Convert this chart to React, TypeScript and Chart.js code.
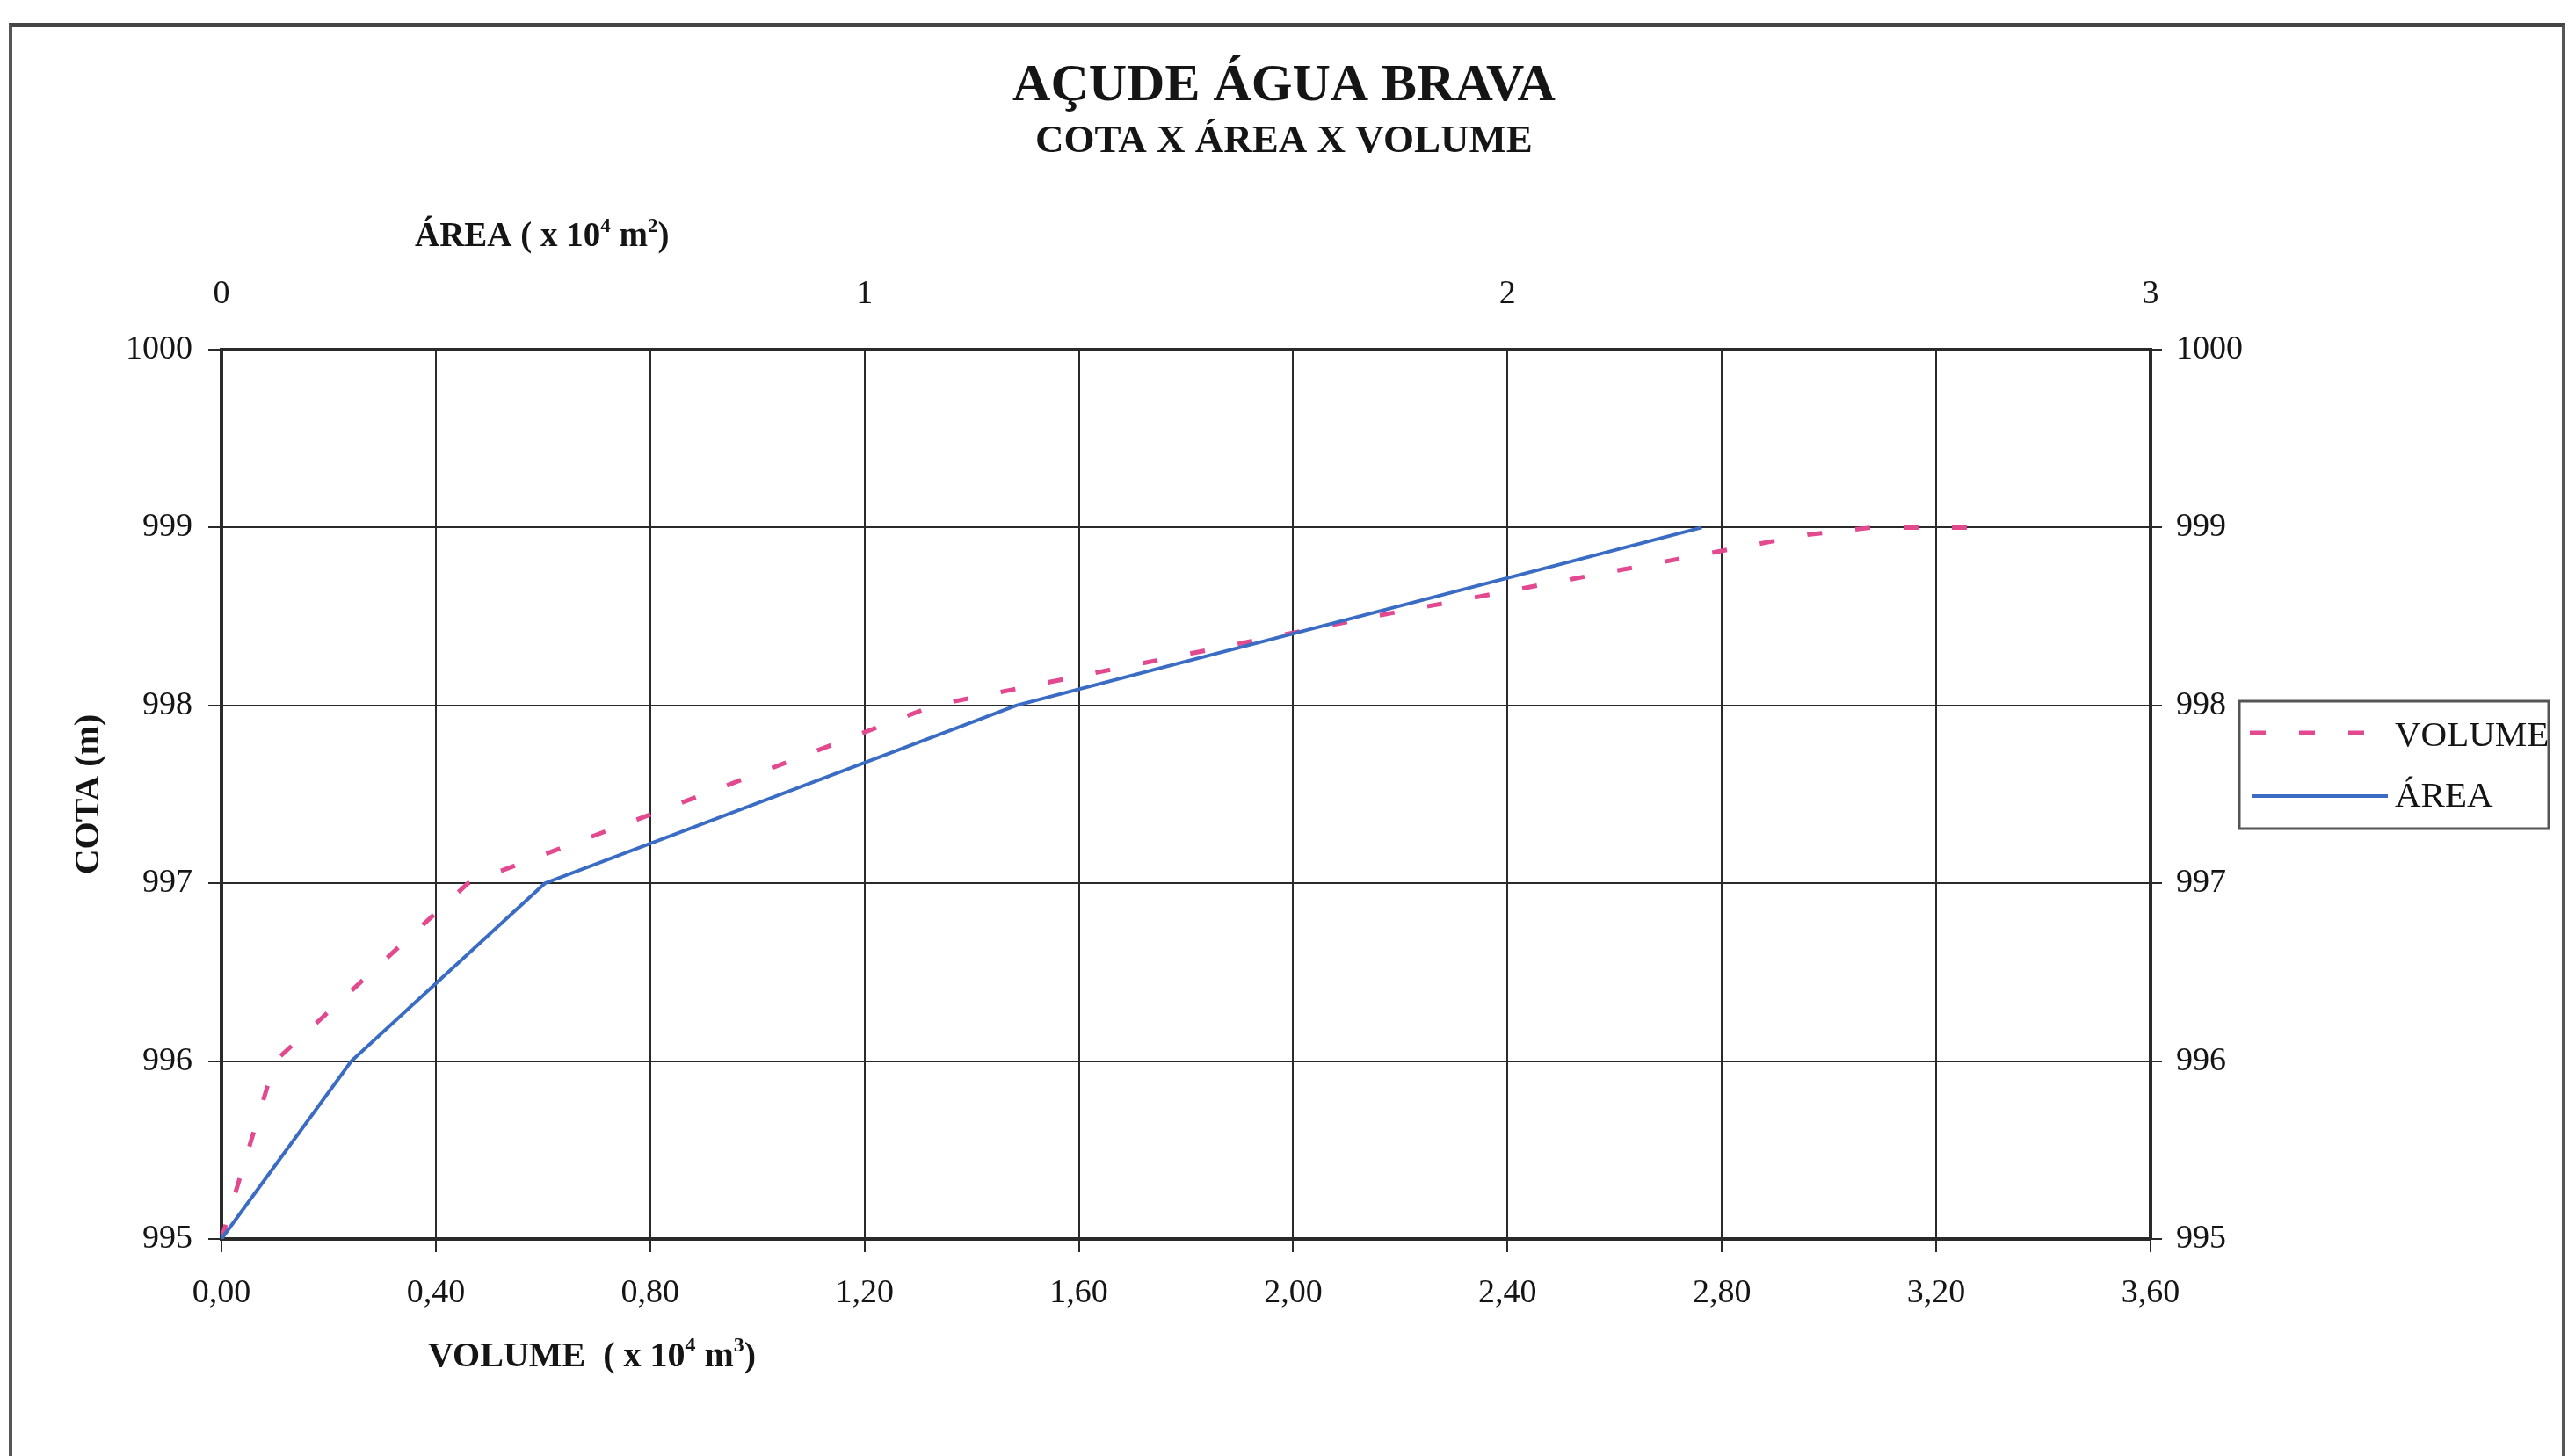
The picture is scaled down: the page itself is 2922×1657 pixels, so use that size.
import React, { useEffect, useRef } from 'react';
import { Chart, registerables } from 'chart.js';

Chart.register(...registerables);

const SERIF = '"Liberation Serif", "Times New Roman", serif';

// ---- data ----
const cotaVolume = [995, 996, 997, 997.5, 998, 998.5, 998.96, 999, 999];
const volume = [0, 0.1, 0.46, 0.9, 1.33, 2.15, 2.96, 3.08, 3.31];
const cotaArea = [995, 996, 997, 998, 999];
const area = [0, 0.202, 0.503, 1.236, 2.302];

const volumeTickLabels = ['0,00', '0,40', '0,80', '1,20', '1,60', '2,00', '2,40', '2,80', '3,20', '3,60'];
const areaTickLabels = ['0', '1', '2', '3'];
const cotaTickLabels = ['995', '996', '997', '998', '999', '1000'];

const seriesNames = ['VOLUME', 'ÁREA'];
const titleText = 'AÇUDE ÁGUA BRAVA';
const subtitleText = 'COTA X ÁREA X VOLUME';

const PINK = '#e2498f';
const BLUE = '#3b6cc4';
const INK = '#151515';
const GRID = '#2a2a2a';

type Piece = [string, boolean];

function drawSupLabel(ctx: CanvasRenderingContext2D, x: number, y: number, size: number, pieces: Piece[]) {
  let cx = x;
  ctx.textBaseline = 'alphabetic';
  ctx.textAlign = 'left';
  ctx.fillStyle = INK;
  for (const [txt, sup] of pieces) {
    const s = sup ? Math.round(size * 0.6) : size;
    ctx.font = `bold ${s}px ${SERIF}`;
    ctx.fillText(txt, cx, sup ? y - size * 0.42 : y);
    cx += ctx.measureText(txt).width;
  }
}

const overlayPlugin = {
  id: 'overlayTexts',
  afterDraw(chart: any) {
    const ctx: CanvasRenderingContext2D = chart.ctx;
    ctx.save();
    drawSupLabel(ctx, 472, 280, 39, [['ÁREA ( x 10', false], ['4', true], [' m', false], ['2', true], [')', false]]);
    drawSupLabel(ctx, 487, 1555, 40, [['VOLUME  ( x 10', false], ['4', true], [' m', false], ['3', true], [')', false]]);

    // legend box
    ctx.strokeStyle = '#555';
    ctx.lineWidth = 3;
    ctx.setLineDash([]);
    ctx.strokeRect(2548, 798, 352, 145);

    ctx.lineWidth = 5;
    ctx.strokeStyle = PINK;
    ctx.setLineDash([18, 38]);
    ctx.lineCap = 'butt';
    ctx.beginPath();
    ctx.moveTo(2560, 834);
    ctx.lineTo(2717, 834);
    ctx.stroke();

    ctx.setLineDash([]);
    ctx.lineWidth = 4;
    ctx.strokeStyle = BLUE;
    ctx.beginPath();
    ctx.moveTo(2563, 906);
    ctx.lineTo(2717, 906);
    ctx.stroke();

    ctx.fillStyle = INK;
    ctx.font = `41px ${SERIF}`;
    ctx.textBaseline = 'middle';
    ctx.textAlign = 'left';
    ctx.fillText(seriesNames[0], 2725, 838);
    ctx.fillText(seriesNames[1], 2725, 907);
    ctx.restore();
  },
};

export default function App() {
  const ref = useRef<HTMLCanvasElement | null>(null);

  useEffect(() => {
    if (!ref.current) return;
    document.body.style.margin = '0';
    const tickFont = { family: SERIF, size: 38 };
    const chart = new Chart(ref.current, {
      type: 'line',
      data: {
        datasets: [
          {
            label: seriesNames[0],
            data: volume.map((v, i) => ({ x: v, y: cotaVolume[i] })),
            xAxisID: 'x',
            yAxisID: 'y',
            borderColor: PINK,
            borderWidth: 5,
            borderDash: [17, 38],
            borderCapStyle: 'butt',
            pointRadius: 0,
            tension: 0,
            fill: false,
            order: 1,
          },
          {
            label: seriesNames[1],
            data: area.map((a, i) => ({ x: a, y: cotaArea[i] })),
            xAxisID: 'x2',
            yAxisID: 'y',
            borderColor: BLUE,
            borderWidth: 4,
            pointRadius: 0,
            tension: 0,
            fill: false,
            order: 0,
          },
        ],
      },
      options: {
        animation: false,
        responsive: false,
        maintainAspectRatio: false,
        layout: { padding: 0 },
        plugins: {
          legend: { display: false },
          tooltip: { enabled: false },
          title: {
            display: true,
            text: titleText,
            color: INK,
            font: { family: SERIF, size: 60, weight: 'bold', lineHeight: 1.2 },
            padding: { top: 62, bottom: 0 },
          },
          subtitle: {
            display: true,
            text: subtitleText,
            color: INK,
            font: { family: SERIF, size: 45, weight: 'bold', lineHeight: 1.2 },
            padding: { top: 0, bottom: 0 },
          },
        },
        scales: {
          x: {
            type: 'linear',
            position: 'bottom',
            min: 0,
            max: 3.6,
            ticks: {
              stepSize: 0.4,
              color: INK,
              font: tickFont,
              padding: 24,
              maxRotation: 0,
              autoSkip: false,
              callback: (_v: any, i: number) => volumeTickLabels[i],
            },
            grid: { color: GRID, lineWidth: 2, tickLength: 15, drawTicks: true },
            border: { display: true, color: GRID, width: 4 },
            afterFit: (s: any) => { s.height = 247; },
          },
          x2: {
            type: 'linear',
            position: 'top',
            min: 0,
            max: 3,
            ticks: {
              stepSize: 1,
              color: INK,
              font: tickFont,
              padding: 40,
              maxRotation: 0,
              autoSkip: false,
              callback: (_v: any, i: number) => areaTickLabels[i],
            },
            grid: { display: false, drawTicks: false, tickLength: 0 },
            border: { display: true, color: GRID, width: 4 },
            afterFit: (s: any) => { s.height = 210; },
          },
          y: {
            type: 'linear',
            position: 'left',
            min: 995,
            max: 1000,
            ticks: {
              stepSize: 1,
              color: INK,
              font: tickFont,
              padding: 18,
              autoSkip: false,
              callback: (_v: any, i: number) => cotaTickLabels[i],
            },
            grid: { color: GRID, lineWidth: 2, tickLength: 15, drawTicks: true },
            border: { display: true, color: GRID, width: 4 },
            title: {
              display: true,
              text: 'COTA (m)',
              color: INK,
              font: { family: SERIF, size: 40, weight: 'bold', lineHeight: 1.2 },
              padding: { top: 78, bottom: 0 },
            },
            afterFit: (s: any) => { s.width = 252; },
          },
          y2: {
            type: 'linear',
            position: 'right',
            min: 995,
            max: 1000,
            ticks: {
              stepSize: 1,
              color: INK,
              font: tickFont,
              padding: 16,
              autoSkip: false,
              callback: (_v: any, i: number) => cotaTickLabels[i],
            },
            grid: { drawOnChartArea: false, color: GRID, lineWidth: 2, tickLength: 13, drawTicks: true },
            border: { display: true, color: GRID, width: 4 },
            afterFit: (s: any) => { s.width = 475; },
          },
        },
      } as any,
      plugins: [overlayPlugin],
    });
    return () => chart.destroy();
  }, []);

  return (
    <div style={{ position: 'fixed', left: 0, top: 0, width: 2922, height: 1657, overflow: 'hidden', background: '#fff' }}>
      <canvas ref={ref} width={2922} height={1657} style={{ position: 'absolute', left: 0, top: 0, width: 2922, height: 1657 }} />
      <div
        style={{
          position: 'absolute',
          left: 10,
          top: 26,
          width: 2901,
          height: 1700,
          borderLeft: '4px solid #555',
          borderTop: '5px solid #444',
          borderRight: '4px solid #555',
          pointerEvents: 'none',
        }}
      />
    </div>
  );
}
